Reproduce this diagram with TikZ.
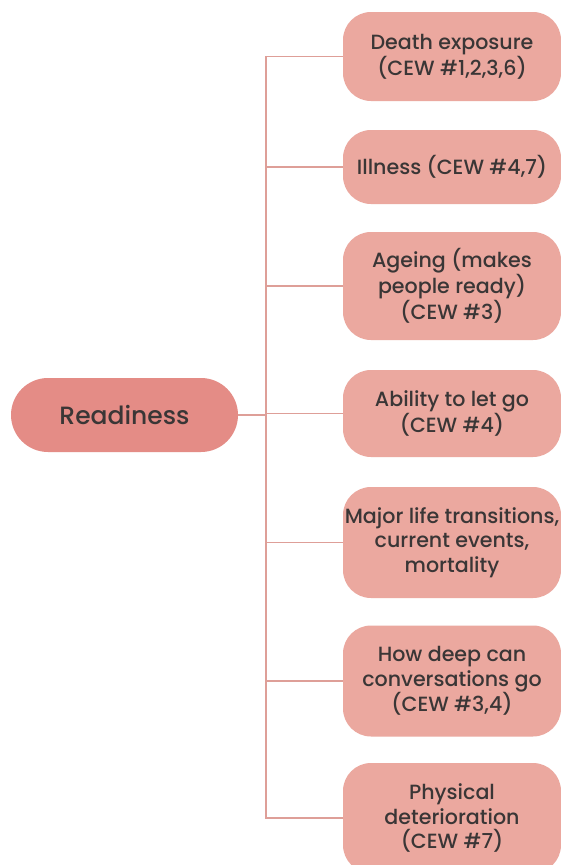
\documentclass[tikz,border=0pt]{standalone}
\usepackage{fontspec}
\setmainfont{Poppins}[UprightFont=* Medium]
\usepackage{xcolor}
\definecolor{rootfill}{HTML}{E48C86}
\definecolor{leaffill}{HTML}{EBA89F}
\definecolor{linkc}{HTML}{DE9F98}
\definecolor{txt}{HTML}{3A3636}

\begin{document}
\begin{tikzpicture}[x=1pt, y=-1pt,
  rootbox/.style={rectangle, fill=rootfill, rounded corners=37pt, minimum width=227pt, minimum height=74pt, text=txt, font=\fontsize{25}{28}\selectfont},
  leaf/.style={rectangle, fill=leaffill, rounded corners=28pt, minimum width=218pt, text=txt, align=center, inner sep=0pt, font=\fontsize{20.6}{24.5}\selectfont},
  branch/.style={draw=linkc, line width=1.6pt},
]
  \clip (0,0) rectangle (561,865);
  \fill[white] (0,0) rectangle (561,865);
  \node[rootbox] (root) at (124.5,415) {Readiness};
  \coordinate (hub) at (266,415);
  % the seven factors
  \node[leaf, minimum height=89pt] (death) at (452,56.5) {Death exposure\\(CEW \#1,2,3,6)};
  \node[leaf, minimum height=74pt] (ill) at (452,167) {Illness (CEW \#4,7)};
  \node[leaf, minimum height=108pt] (age) at (452,286) {Ageing (makes\\people ready)\\(CEW \#3)};
  \node[leaf, minimum height=87pt] (letgo) at (452,413.5) {Ability to let go\\(CEW \#4)};
  \node[leaf, minimum height=111pt] (major) at (452,542.5) {Major life transitions,\\current events,\\mortality};
  \node[leaf, minimum height=111pt] (deep) at (452,681) {How deep can\\conversations go\\(CEW \#3,4)};
  \node[leaf, minimum height=110pt] (phys) at (452,818) {Physical\\deterioration\\(CEW \#7)};
  \draw[branch] (root.east) -- (hub);
  \foreach \n in {death,ill,age,letgo,major,deep,phys}
    \draw[branch] (hub) |- (\n.west);
\end{tikzpicture}
\end{document}
